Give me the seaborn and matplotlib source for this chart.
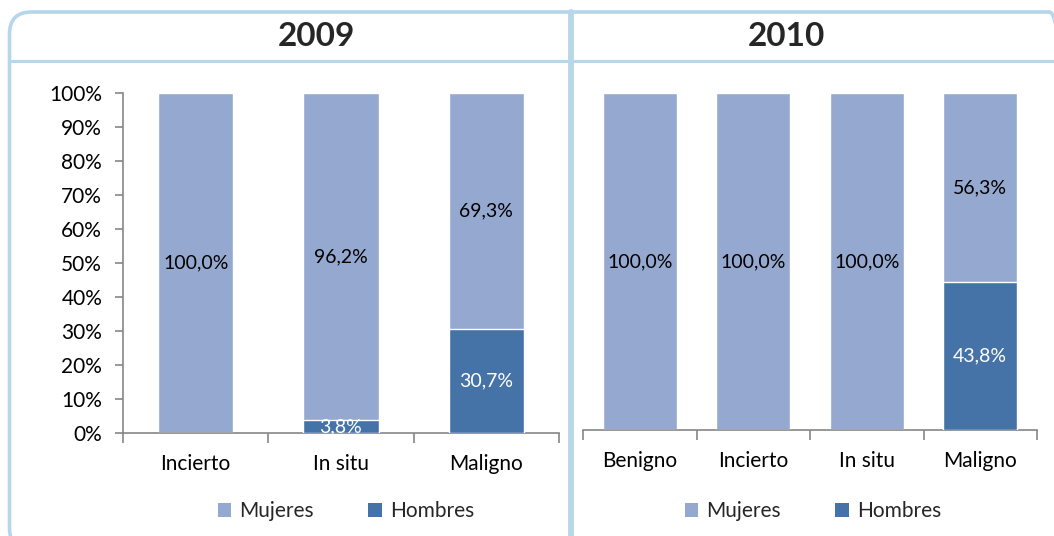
import matplotlib
matplotlib.use("Agg")
import matplotlib.pyplot as plt
from matplotlib.patches import FancyBboxPatch, Patch
import numpy as np
import pandas as pd
import seaborn as sns

# ---- data ----
years = ["2009", "2010"]
cats_2009 = ["Incierto", "In situ", "Maligno"]
mujeres_2009 = [100.0, 96.2, 69.3]
hombres_2009 = [0.0, 3.8, 30.7]
cats_2010 = ["Benigno", "Incierto", "In situ", "Maligno"]
mujeres_2010 = [100.0, 100.0, 100.0, 56.3]
hombres_2010 = [0.0, 0.0, 0.0, 43.8]
series_names = ["Mujeres", "Hombres"]
yticks = [0, 10, 20, 30, 40, 50, 60, 70, 80, 90, 100]

C_MUJ = "#95A9D0"
C_HOM = "#4673A7"
C_BORDER = "#B6D6EA"
C_AXIS = "#868686"

sns.set_theme(style="white")
plt.rcParams["font.family"] = ["Lato", "DejaVu Sans"]

W, H = 1054, 536
fig = plt.figure(figsize=(W / 100, H / 100), dpi=100)


def fx(px):
    return px / W


def fy(py):
    return 1 - py / H


# frame drawn in pixel coordinates (y measured from bottom) on a background axes
bg = fig.add_axes([0, 0, 1, 1], zorder=-1)
bg.set_xlim(0, W)
bg.set_ylim(0, H)
bg.axis("off")
bg.add_patch(FancyBboxPatch((9.5, H - 550), 1062, 538,
                            boxstyle="round,pad=0,rounding_size=22",
                            fill=False, edgecolor=C_BORDER, linewidth=2.6))
bg.plot([9.5, 1060], [H - 61, H - 61], color=C_BORDER, lw=2.2)
bg.plot([571, 571], [H - 12, -5], color=C_BORDER, lw=4.2)


def pct(v):
    return f"{v:.1f}%".replace(".", ",")


def draw(ax, cats, muj, hom, width, show_y):
    df = pd.DataFrame({"cat": cats, "muj": muj, "hom": hom})
    df["total"] = df["muj"] + df["hom"]
    sns.barplot(data=df, x="cat", y="total", color=C_MUJ, saturation=1,
                width=width, ax=ax, zorder=2)
    sns.barplot(data=df, x="cat", y="hom", color=C_HOM, saturation=1,
                width=width, ax=ax, zorder=3)
    ax.set_ylim(0, 100)
    ax.set_xlim(-0.5, len(cats) - 0.5)
    ax.set_xlabel("")
    ax.set_ylabel("")
    for i, (m, h) in enumerate(zip(muj, hom)):
        ax.text(i, h + m / 2, pct(m), ha="center", va="center",
                fontsize=14, color="black", zorder=5)
        if h > 0:
            ax.text(i, h / 2, pct(h), ha="center", va="center",
                    fontsize=14, color="white", zorder=5)
    for s in ["top", "right"]:
        ax.spines[s].set_visible(False)
    ax.spines["bottom"].set_color(C_AXIS)
    ax.spines["bottom"].set_linewidth(1.2)
    ax.set_xticks(np.arange(-0.5, len(cats)), minor=True)
    ax.tick_params(axis="x", which="minor", length=7, width=1.2,
                   color=C_AXIS, direction="out", bottom=True)
    ax.tick_params(axis="x", which="major", length=0, pad=15,
                   labelsize=15, labelcolor="black")
    if show_y:
        ax.spines["left"].set_color(C_AXIS)
        ax.spines["left"].set_linewidth(1.2)
        ax.set_yticks(yticks)
        ax.set_yticklabels([f"{t}%" for t in yticks])
        ax.tick_params(axis="y", length=6, width=1.2, color=C_AXIS,
                       direction="out", left=True, pad=9,
                       labelsize=15, labelcolor="black")
    else:
        ax.spines["left"].set_visible(False)
        ax.set_yticks([])
    ax.grid(False)


ax1 = fig.add_axes([fx(123), fy(433), fx(559) - fx(123), fy(93) - fy(433)])
draw(ax1, cats_2009, mujeres_2009, hombres_2009, 0.52, True)
ax2 = fig.add_axes([fx(583), fy(430), fx(1037) - fx(583), fy(93) - fy(430)])
draw(ax2, cats_2010, mujeres_2010, hombres_2010, 0.65, False)

fig.text(fx(316), fy(37), years[0], ha="center", va="center",
         fontsize=24, fontweight="bold")
fig.text(fx(786), fy(37), years[1], ha="center", va="center",
         fontsize=24, fontweight="bold")

handles = [Patch(facecolor=C_MUJ, edgecolor="none"),
           Patch(facecolor=C_HOM, edgecolor="none")]
for cx in (346, 813):
    fig.legend(handles, series_names, loc="center",
               bbox_to_anchor=(fx(cx), fy(511)), bbox_transform=fig.transFigure,
               ncol=2, frameon=False, fontsize=15, handlelength=0.65,
               handleheight=0.65, handletextpad=0.4, columnspacing=2.6)

fig.savefig("out.png", dpi=100)
